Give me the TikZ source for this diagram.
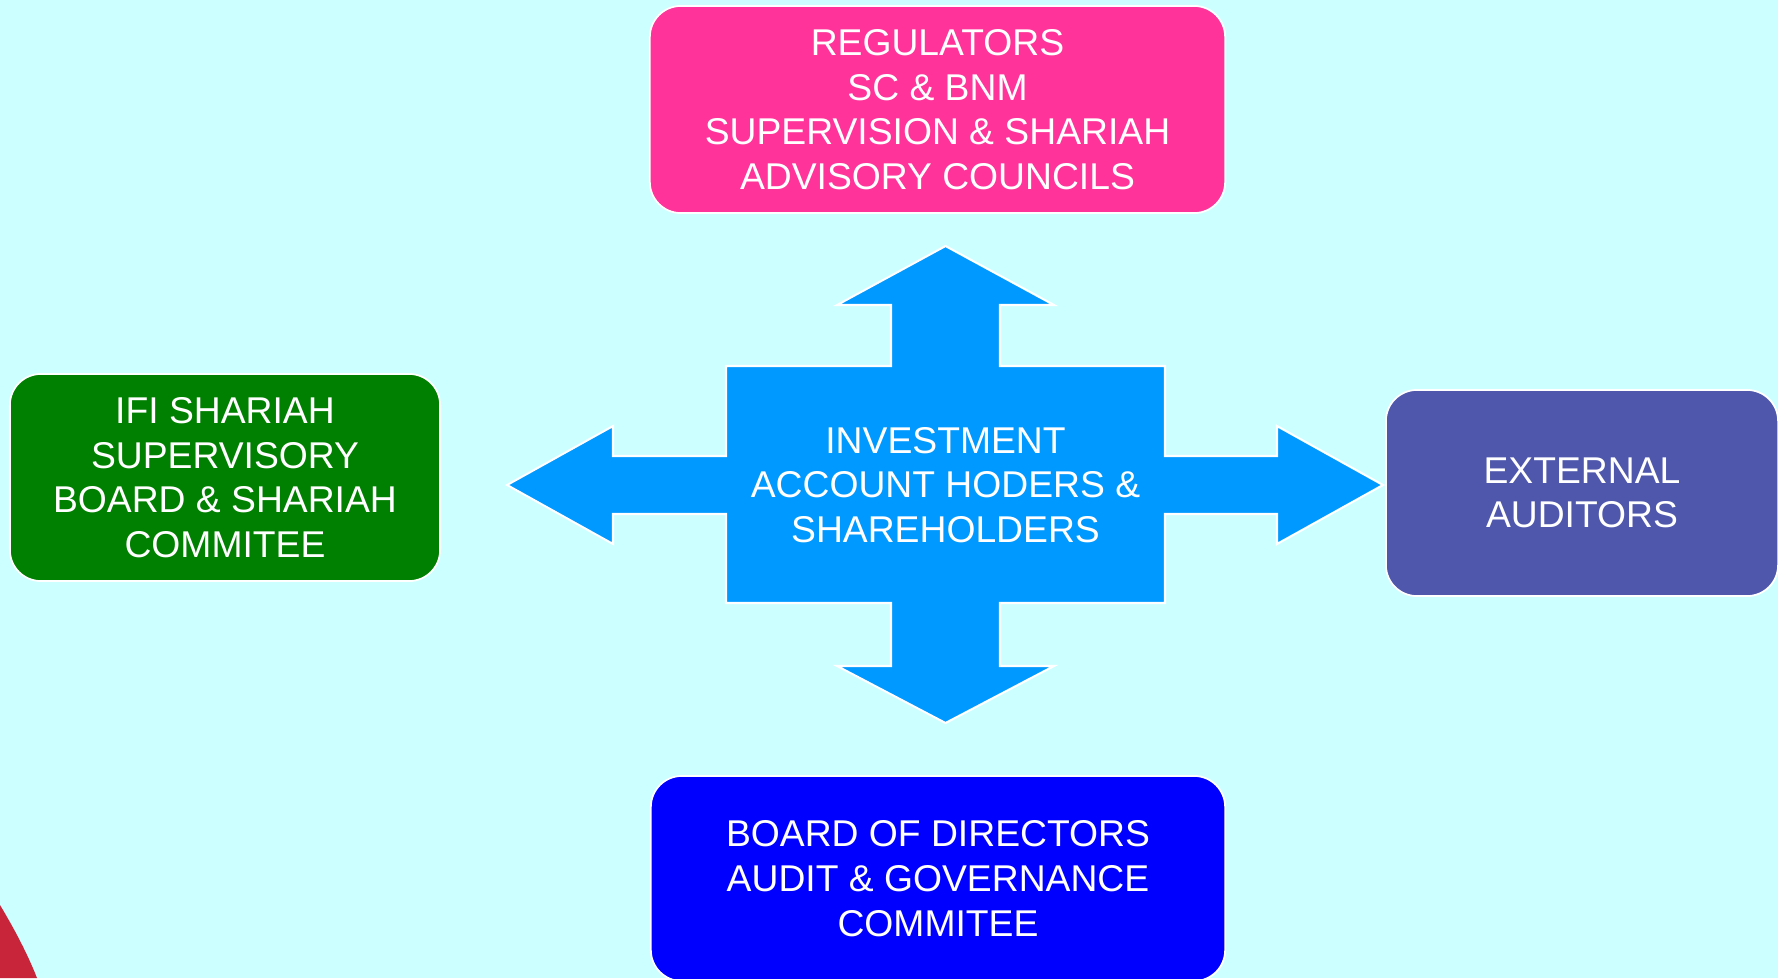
\documentclass[tikz,border=0pt]{standalone}
\usepackage{fontspec}
\setmainfont{Liberation Sans}
\definecolor{bgcyan}{HTML}{CCFFFF}
\definecolor{crossblue}{HTML}{0099FF}
\definecolor{regpink}{HTML}{FF3399}
\definecolor{ssbgreen}{HTML}{008000}
\definecolor{audslate}{HTML}{4F57AD}
\definecolor{bodblue}{HTML}{0000FF}
\definecolor{arcred}{HTML}{C8243A}

\begin{document}
\begin{tikzpicture}[x=0.01cm, y=-0.01cm,
    card/.style={rounded corners=0.31cm, draw=white, line width=0.5pt, text=white,
      align=center, inner sep=0pt, font=\fontsize{10.6}{12.7}\selectfont}]
    % Background
    \fill[bgcyan] (0,0) rectangle (1778,978);
    \clip (0,0) rectangle (1778,978);
    \fill[arcred] (0,905) .. controls (15,930) and (28,955) .. (37,978) -- (0,978) -- cycle;

    % Cross arrow
    \filldraw[fill=crossblue, draw=white, line width=0.6pt]
      (945.5,246) -- (1054,305) -- (1000,305) -- (1000,366) -- (1165,366) -- (1165,456)
      -- (1277,456) -- (1277,426) -- (1383,485) -- (1277,544) -- (1277,514) -- (1165,514)
      -- (1165,603) -- (1000,603) -- (1000,666) -- (1054,666) -- (945.5,723) -- (837,666)
      -- (891,666) -- (891,603) -- (726,603) -- (726,514) -- (613,514) -- (613,544)
      -- (507,485) -- (613,426) -- (613,456) -- (726,456) -- (726,366) -- (891,366)
      -- (891,305) -- (837,305) -- cycle;
    \node[align=center, text=white, font=\fontsize{10.6}{12.7}\selectfont] (holders) at (945.5,485)
      {INVESTMENT\\ACCOUNT HODERS \&\\SHAREHOLDERS};

    % Boxes
    \node[card, fill=regpink, minimum width=5.75cm, minimum height=2.07cm] (regulators) at (937.5,109.5)
      {REGULATORS\\SC \& BNM\\SUPERVISION \& SHARIAH\\ADVISORY COUNCILS};
    \node[card, fill=ssbgreen, minimum width=4.3cm, minimum height=2.07cm] (shariah) at (225,477.5)
      {IFI SHARIAH\\SUPERVISORY\\BOARD \& SHARIAH\\COMMITEE};
    \node[card, fill=audslate, minimum width=3.92cm, minimum height=2.06cm] (auditors) at (1582,493)
      {EXTERNAL\\AUDITORS};
    \node[card, fill=bodblue, minimum width=5.74cm, minimum height=2.05cm] (board) at (938,878.5)
      {BOARD OF DIRECTORS\\AUDIT \& GOVERNANCE\\COMMITEE};
\end{tikzpicture}
\end{document}
